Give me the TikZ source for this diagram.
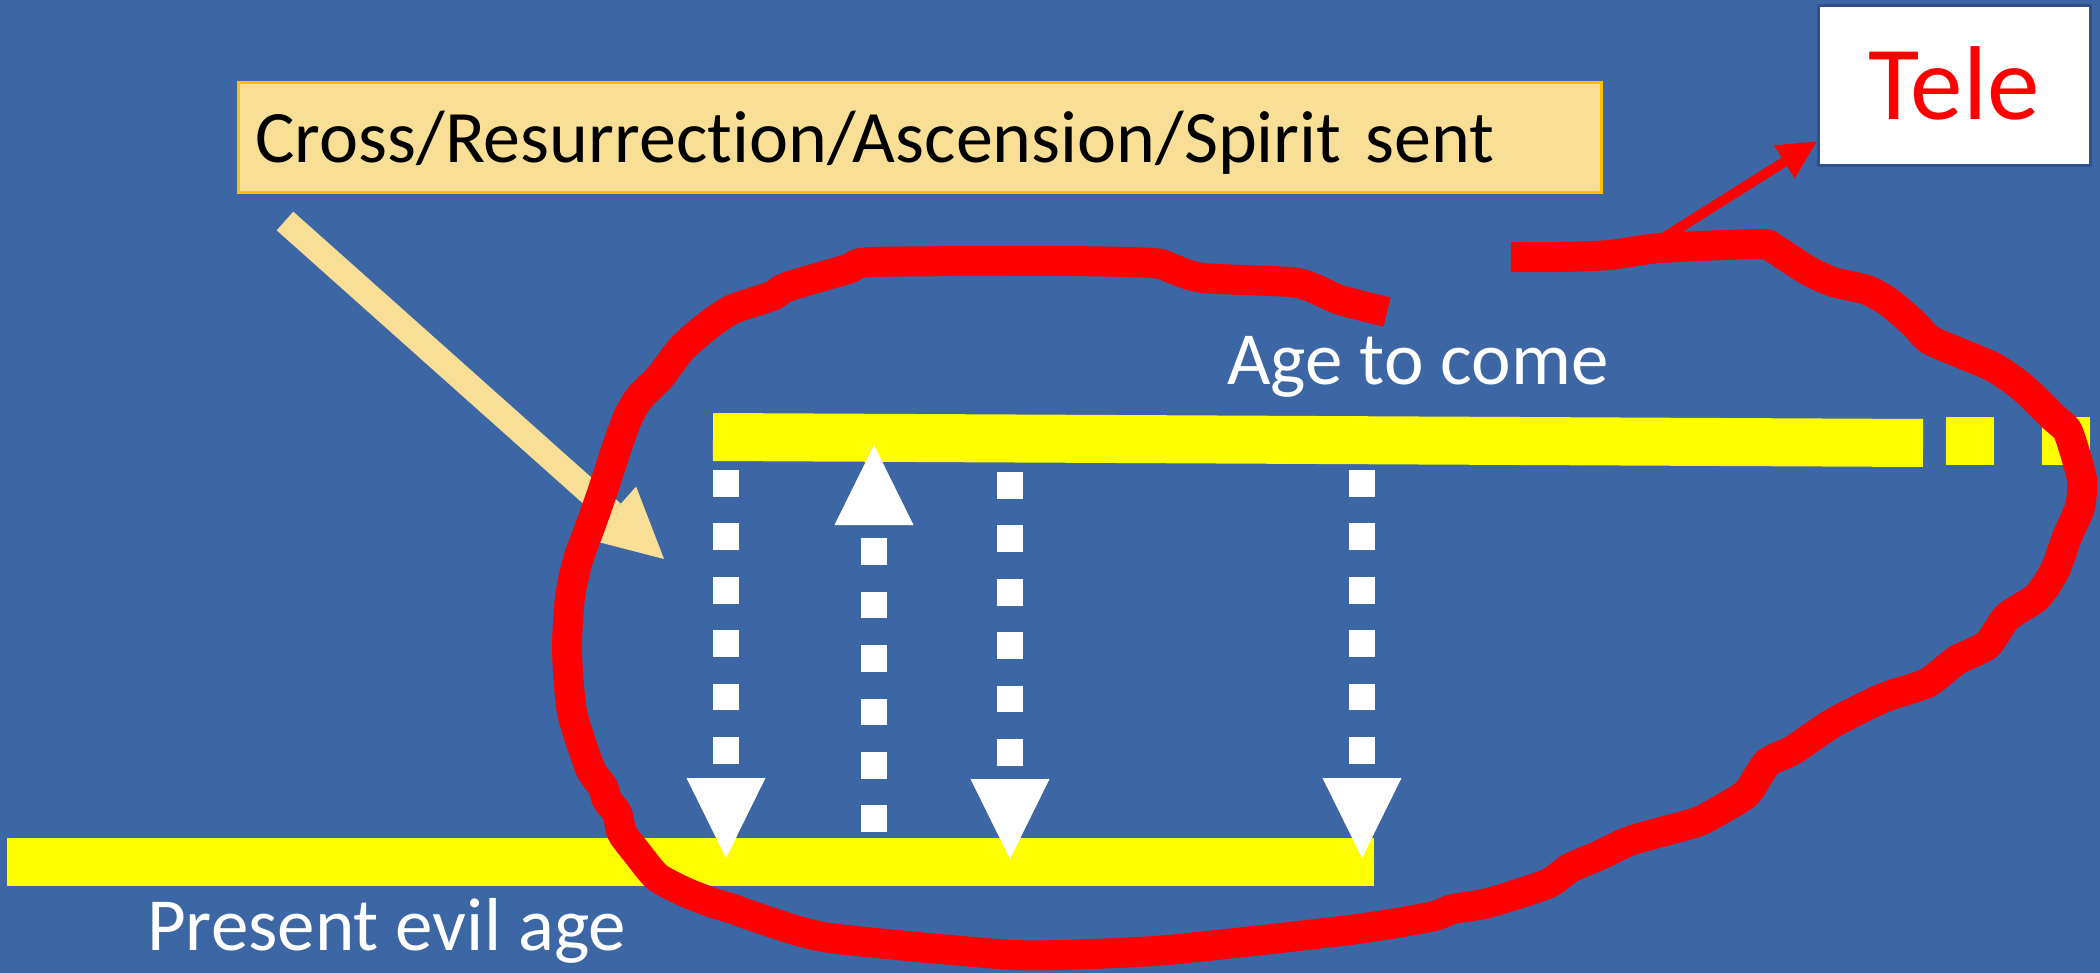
\documentclass[tikz,border=0pt]{standalone}
\usepackage{fontspec}
\setmainfont{Carlito}[Ligatures=NoCommon]
\usetikzlibrary{arrows.meta}
\definecolor{slideblue}{RGB}{61,102,164}
\definecolor{palegold}{RGB}{249,222,149}
\definecolor{gold}{RGB}{255,192,0}
\definecolor{teleline}{RGB}{47,82,143}
\definecolor{baryellow}{RGB}{255,255,0}
\definecolor{loopred}{RGB}{255,0,0}

\begin{document}
\begin{tikzpicture}[x=1pt, y=-1pt,
    agebar/.style = {baryellow, line width=48pt},
    dashlink/.style = {white, line width=26.7pt, dash pattern=on 26.7pt off 26.7pt,
        -{Triangle[length=80pt, width=79pt, line width=0pt]}},
    agetext/.style = {white, font=\fontsize{75}{90}\selectfont, anchor=base west, inner sep=0pt}]
\fill[slideblue] (0,0) rectangle (2100,973);
\useasboundingbox (0,0) rectangle (2100,973);

\draw[agebar] (713,437) -- (1923,443);
\draw[agebar] (1946,441) -- (1994,441);
\draw[agebar] (2042,441) -- (2090,441);
\draw[agebar] (7,862) -- (1374,862);

\coordinate (a1) at (726,470);  \coordinate (b1) at (726,858);
\coordinate (a2) at (874,832);  \coordinate (b2) at (874,445);
\coordinate (a3) at (1010,472); \coordinate (b3) at (1010,859);
\coordinate (a4) at (1362,470); \coordinate (b4) at (1362,858);
\foreach \i in {1,...,4}
    \draw[dashlink] (a\i) -- (b\i);

\node[draw=gold, line width=3pt, fill=palegold, anchor=north west,
    text width=1329pt, inner xsep=17pt, inner ysep=0pt, align=left,
    text height=80pt, text depth=30pt, font=\fontsize{74}{90}\selectfont]
    (event) at (237,81) {Cross/Resurrection/Ascension/Spirit sent};
\node[draw=teleline, line width=3pt, fill=white, text=loopred,
    minimum width=272pt, minimum height=160pt, text height=68pt, text depth=0pt,
    font=\fontsize{105}{120}\selectfont] (tele) at (1954,86) {Tele};
\node[agetext] (future) at (1227,384) {Age to come};
\node[agetext] (present) at (147,950) {Present evil age};

\coordinate (fall) at (285,221);
\coordinate (land) at (664,559);
\draw[palegold, line width=25pt, -{Triangle[length=69pt, width=71pt, line width=0pt]}] (fall) -- (land);

\draw[loopred, line width=30pt, line join=round] plot[smooth, tension=0.4] coordinates {
    (1387,312) (1340,300) (1313,288) (1290,282) (1203,278) (1173,269) (1153,263)
    (1060,261) (873,262) (848,269) (787,287) (772,296) (733,309) (710,324)
    (682,348) (660,377) (640,397) (628,417) (617,447) (602,493) (590,527)
    (578,560) (570,597) (567,650) (572,712) (590,768) (603,787) (607,800)
    (617,813) (622,833) (637,853) (657,877) (685,892) (713,903) (730,908)
    (770,922) (830,938) (998,954) (1060,955) (1167,950) (1350,930) (1430,917)
    (1453,909) (1488,903) (1547,884) (1570,868) (1600,855) (1627,842) (1650,835)
    (1697,822) (1720,810) (1747,793) (1767,763) (1793,750) (1833,723) (1883,698)
    (1927,683) (1957,660) (1987,645) (2007,617) (2037,597) (2055,570) (2067,537)
    (2080,507) (2082,480) (2075,453) (2067,430) (2053,417) (2033,397) (2017,383)
    (1993,367) (1960,353) (1930,340) (1913,323) (1890,303) (1867,290) (1833,282)
    (1807,270) (1773,248) (1760,244) (1660,248) (1610,255) (1560,257) (1511,257)};

\coordinate (lift) at (1660,240);
\draw[loopred, line width=10pt, -{Triangle[length=38pt, width=39pt, line width=0pt]}] (lift) -- (tele.202);
\end{tikzpicture}
\end{document}
